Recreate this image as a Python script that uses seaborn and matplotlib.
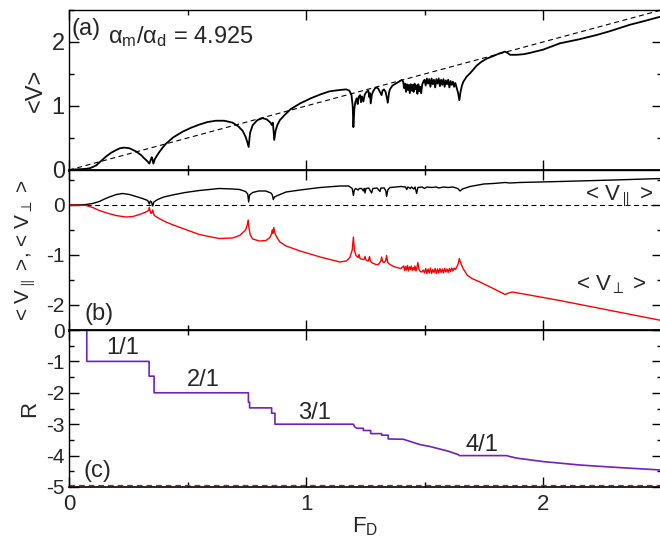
import numpy as np
import pandas as pd
import matplotlib
matplotlib.use("Agg")
import matplotlib.pyplot as plt
import seaborn as sns
from matplotlib.ticker import MultipleLocator

# ---------------- panel (a): <V> vs F_D ----------------
fa = [0.0, 0.03, 0.06, 0.075, 0.09, 0.114, 0.135, 0.156, 0.178, 0.198, 0.215, 0.233, 0.255, 0.283,
      0.305, 0.318, 0.330, 0.339, 0.345, 0.349, 0.352, 0.356, 0.362, 0.372, 0.381, 0.395, 0.409,
      0.44, 0.48, 0.515, 0.55, 0.585, 0.62, 0.655, 0.69, 0.715, 0.733, 0.745, 0.752, 0.758, 0.764,
      0.775, 0.795, 0.817, 0.835, 0.850, 0.857, 0.860, 0.863, 0.866, 0.872, 0.880, 0.890, 0.91,
      0.935, 0.975, 1.02, 1.06, 1.10, 1.143, 1.17, 1.183, 1.192, 1.197, 1.200,
      1.204, 1.208, 1.214, 1.218, 1.222, 1.228, 1.232, 1.236, 1.242, 1.248, 1.255, 1.263, 1.267,
      1.270, 1.273, 1.278, 1.285, 1.292, 1.298, 1.305, 1.312, 1.319, 1.323, 1.329, 1.336, 1.340,
      1.345, 1.350, 1.354, 1.365, 1.383, 1.397, 1.404, 1.410, 1.414,
      1.418, 1.422, 1.426, 1.430, 1.434, 1.438, 1.442, 1.446, 1.450, 1.454, 1.458, 1.462, 1.466,
      1.470, 1.474, 1.478, 1.482, 1.486, 1.490, 1.495,
      1.500, 1.505, 1.510, 1.515, 1.520, 1.525, 1.530, 1.535, 1.540, 1.545, 1.550, 1.555, 1.560,
      1.565, 1.570, 1.575, 1.580, 1.585, 1.590, 1.595, 1.600, 1.605, 1.610, 1.615, 1.620, 1.625,
      1.630, 1.636, 1.642, 1.647,
      1.652, 1.658, 1.664, 1.678, 1.692, 1.706, 1.72, 1.74, 1.762, 1.79, 1.815, 1.84, 1.85, 1.861,
      1.875, 1.889, 1.92, 1.945, 2.0, 2.072, 2.15, 2.227, 2.283, 2.367, 2.43, 2.5]
va = [0.0, 0.01, 0.015, 0.02, 0.03, 0.07, 0.14, 0.21, 0.27, 0.31, 0.34, 0.35, 0.34, 0.29,
      0.23, 0.18, 0.14, 0.10, 0.16, 0.20, 0.17, 0.10, 0.17, 0.23, 0.28, 0.35, 0.41,
      0.51, 0.60, 0.66, 0.71, 0.75, 0.77, 0.77, 0.74, 0.68, 0.61, 0.52, 0.44, 0.36, 0.58,
      0.70, 0.78, 0.81, 0.79, 0.74, 0.70, 0.74, 0.62, 0.47, 0.62, 0.71, 0.78, 0.86,
      0.95, 1.04, 1.12, 1.18, 1.23, 1.25, 1.26, 1.24, 1.17, 1.00, 0.67,
      0.95, 1.06, 1.12, 1.03, 1.14, 1.17, 1.06, 1.15, 1.07, 1.18, 1.22, 1.24, 1.14,
      1.20, 1.04, 1.18, 1.24, 1.28, 1.29, 1.27, 1.22, 1.17, 1.24, 1.26, 1.22, 1.15,
      1.05, 1.20, 1.26, 1.32, 1.36, 1.39, 1.41, 1.38, 1.28,
      1.35, 1.22, 1.34, 1.25, 1.33, 1.20, 1.34, 1.24, 1.33, 1.22, 1.35, 1.26, 1.32,
      1.19, 1.34, 1.23, 1.30, 1.20, 1.33, 1.38,
      1.41, 1.32, 1.43, 1.35, 1.42, 1.30, 1.43, 1.34, 1.41, 1.29, 1.42, 1.35, 1.43,
      1.31, 1.41, 1.33, 1.42, 1.30, 1.40, 1.34, 1.41, 1.29, 1.39, 1.33, 1.38, 1.30,
      1.36, 1.28, 1.20, 1.09,
      1.22, 1.32, 1.38, 1.46, 1.51, 1.57, 1.63, 1.69, 1.74, 1.78, 1.82, 1.85, 1.83, 1.80,
      1.80, 1.80, 1.81, 1.83, 1.88, 1.98, 2.04, 2.11, 2.17, 2.27, 2.33, 2.40]
diag_f = [0.0, 2.5]
diag_v = [0.0, 2.5]

# ---------------- panel (b): <V_par>, <V_perp> ----------------
fpar = [0.0, 0.05, 0.072, 0.10, 0.128, 0.15, 0.17, 0.20, 0.226, 0.255, 0.283, 0.31, 0.332, 0.339,
        0.343, 0.348, 0.353, 0.358, 0.374, 0.40, 0.437, 0.49, 0.55, 0.634, 0.69, 0.72, 0.745,
        0.754, 0.758, 0.762, 0.775, 0.80, 0.83, 0.852, 0.858, 0.862, 0.867, 0.88, 0.916, 0.975,
        1.06, 1.143, 1.18, 1.195, 1.200, 1.204, 1.21, 1.22, 1.225, 1.235, 1.242, 1.246, 1.249,
        1.253, 1.265, 1.272, 1.277, 1.282, 1.30, 1.312, 1.316, 1.33, 1.337, 1.340, 1.345, 1.354,
        1.38, 1.40, 1.42, 1.425, 1.43, 1.44, 1.445, 1.455, 1.46, 1.467, 1.472, 1.49, 1.50, 1.51,
        1.53, 1.55, 1.56, 1.58, 1.60, 1.62, 1.64, 1.65, 1.66, 1.692, 1.75, 1.79, 1.84, 1.86,
        1.90, 2.07, 2.3, 2.5]
vpar = [0.0, 0.005, 0.01, 0.03, 0.07, 0.12, 0.16, 0.21, 0.23, 0.21, 0.17, 0.13, 0.09, 0.02,
        0.08, 0.06, -0.02, 0.06, 0.11, 0.16, 0.20, 0.25, 0.29, 0.33, 0.32, 0.31, 0.27,
        0.22, 0.06, 0.20, 0.25, 0.28, 0.28, 0.24, 0.20, 0.11, 0.16, 0.19, 0.26, 0.30,
        0.35, 0.38, 0.38, 0.33, 0.19, 0.30, 0.33, 0.30, 0.33, 0.33, 0.28, 0.33, 0.24,
        0.33, 0.34, 0.28, 0.24, 0.33, 0.34, 0.27, 0.34, 0.34, 0.28, 0.17, 0.30, 0.35,
        0.36, 0.37, 0.36, 0.31, 0.36, 0.33, 0.36, 0.32, 0.36, 0.23, 0.35, 0.36, 0.33, 0.36,
        0.35, 0.36, 0.34, 0.36, 0.35, 0.36, 0.33, 0.28, 0.32, 0.37, 0.42, 0.43, 0.45, 0.44,
        0.45, 0.47, 0.50, 0.53]
fperp = [0.0, 0.05, 0.072, 0.10, 0.128, 0.16, 0.198, 0.24, 0.27, 0.297, 0.32, 0.332, 0.337, 0.339,
         0.342, 0.346, 0.350, 0.353, 0.356, 0.36, 0.38, 0.409, 0.44, 0.48, 0.55, 0.60, 0.634,
         0.69, 0.72, 0.745, 0.752, 0.756, 0.759, 0.765, 0.775, 0.803, 0.831, 0.848, 0.855, 0.858,
         0.860, 0.864, 0.870, 0.876, 0.89, 0.916, 0.975, 1.06, 1.143, 1.17, 1.185, 1.195, 1.200,
         1.204, 1.211, 1.220, 1.224, 1.228, 1.240, 1.245, 1.249, 1.253, 1.263, 1.268, 1.272,
         1.28, 1.295, 1.305, 1.316, 1.319, 1.323, 1.329, 1.336, 1.340, 1.345, 1.354, 1.37, 1.383,
         1.40, 1.412, 1.416, 1.420, 1.424, 1.428, 1.432, 1.436, 1.440, 1.444, 1.448, 1.452,
         1.456, 1.460, 1.464, 1.468, 1.472, 1.476, 1.482, 1.488, 1.495,
         1.500, 1.505, 1.510, 1.515, 1.520, 1.525, 1.530, 1.535, 1.540, 1.545, 1.550, 1.555,
         1.560, 1.565, 1.570, 1.575, 1.580, 1.585, 1.590, 1.595, 1.600, 1.605, 1.610, 1.615,
         1.620, 1.625, 1.630, 1.636, 1.642, 1.647,
         1.652, 1.664, 1.68, 1.70, 1.734, 1.79, 1.84, 1.855, 1.87, 1.93, 2.07, 2.21, 2.35, 2.5]
vperp = [0.0, -0.005, -0.01, -0.05, -0.11, -0.16, -0.21, -0.24, -0.23, -0.19, -0.15, -0.12,
         -0.10, -0.05, -0.12, -0.17, -0.15, -0.10, -0.16, -0.21, -0.27, -0.34, -0.40, -0.47,
         -0.59, -0.64, -0.67, -0.66, -0.61, -0.50, -0.40, -0.30, -0.45, -0.60, -0.68, -0.72,
         -0.71, -0.65, -0.57, -0.50, -0.57, -0.45, -0.58, -0.64, -0.74, -0.82, -0.92, -1.04,
         -1.14, -1.12, -1.05, -0.90, -0.64,
         -0.90, -1.01, -1.05, -0.99, -1.07, -1.09, -1.09, -1.03, -1.10, -1.12, -1.03, -1.13,
         -1.16, -1.19, -1.19, -1.12, -1.04, -1.13, -1.15, -1.12, -1.01, -1.15, -1.19, -1.23,
         -1.25, -1.27, -1.22, -1.31, -1.23, -1.30, -1.21, -1.32, -1.24, -1.29, -1.22, -1.31,
         -1.25, -1.30, -1.22, -1.32, -1.26, -1.15, -1.28, -1.33, -1.34, -1.30,
         -1.36, -1.27, -1.37, -1.28, -1.36, -1.26, -1.37, -1.29, -1.35, -1.27, -1.37, -1.28,
         -1.36, -1.27, -1.35, -1.28, -1.36, -1.27, -1.34, -1.28, -1.35, -1.27, -1.33, -1.26,
         -1.32, -1.26, -1.29, -1.24, -1.18, -1.07,
         -1.15, -1.28, -1.40, -1.47, -1.54, -1.67, -1.79, -1.76, -1.74, -1.79, -1.91, -2.04,
         -2.17, -2.31]
zero_f = [0.0, 2.5]
zero_v = [0.0, 0.0]

# ---------------- panel (c): R ----------------
fr = [0.075, 0.075, 0.338, 0.338, 0.359, 0.359, 0.757, 0.757, 0.762, 0.762, 0.855, 0.855, 0.869,
      0.869, 1.200, 1.205, 1.214, 1.242, 1.242, 1.273, 1.273, 1.319, 1.319, 1.347, 1.347, 1.411,
      1.481, 1.523, 1.60, 1.643, 1.647, 1.847, 1.86, 1.889, 2.0, 2.156, 2.297, 2.5]
rr = [0.3, -1.0, -1.0, -1.47, -1.47, -2.0, -2.0, -2.3, -2.3, -2.48, -2.48, -2.65, -2.65,
      -3.0, -3.0, -3.08, -3.13, -3.13, -3.2, -3.2, -3.3, -3.3, -3.35, -3.35, -3.47, -3.48,
      -3.65, -3.71, -3.86, -3.97, -4.0, -4.0, -4.03, -4.08, -4.19, -4.3, -4.37, -4.46]
ratio_f = [0.0, 2.5]
ratio_r = [-4.925, -4.925]
step_labels = ["1/1", "2/1", "3/1", "4/1"]
step_label_f = [0.228, 0.565, 1.034, 1.741]
step_label_r = [-0.56, -1.58, -2.64, -3.66]

# ---------------- style ----------------
sns.set_theme(style="ticks")
plt.rcParams['font.family'] = ['Liberation Sans', 'DejaVu Sans']
plt.rcParams['mathtext.fontset'] = 'custom'
plt.rcParams['mathtext.rm'] = 'Liberation Sans'
plt.rcParams['mathtext.it'] = 'Liberation Sans'
plt.rcParams['mathtext.default'] = 'regular'
plt.rcParams['axes.unicode_minus'] = False

W, H = 660, 537
fig = plt.figure(figsize=(W / 100, H / 100), dpi=100)


def box(l, t, r, b):
    return [l / W, 1 - b / H, (r - l) / W, (b - t) / H]


axA = fig.add_axes(box(69, 10, 661.5, 170))
axB = fig.add_axes(box(69, 170, 661.5, 330))
axC = fig.add_axes(box(69, 330, 661.5, 487))

kw = dict(sort=False, estimator=None, legend=False)
sns.lineplot(x=diag_f, y=diag_v, ax=axA, color='black', linewidth=0.8,
             linestyle=(0, (4.5, 3.2)), **kw)
sns.lineplot(x=fa, y=va, ax=axA, color='black', linewidth=1.3, **kw)

sns.lineplot(x=zero_f, y=zero_v, ax=axB, color='black', linewidth=0.8,
             linestyle=(0, (4.5, 3.2)), **kw)
sns.lineplot(x=fpar, y=vpar, ax=axB, color='black', linewidth=1.0, **kw)
sns.lineplot(x=fperp, y=vperp, ax=axB, color='#ff0000', linewidth=1.0, **kw)

sns.lineplot(x=ratio_f, y=ratio_r, ax=axC, color='#ff0000', linewidth=0.9,
             linestyle=(0, (4.5, 3.2)), **kw)
sns.lineplot(x=fr, y=rr, ax=axC, color='#7221bc', linewidth=1.2, **kw)

limits = [(axA, (0, 2.5)), (axB, (-2.5, 0.7)), (axC, (-5, 0))]
for ax, yl in limits:
    ax.set_xlim(0, 2.5)
    ax.set_ylim(*yl)
    ax.set_facecolor('white')
    ax.xaxis.set_major_locator(MultipleLocator(1))
    ax.xaxis.set_minor_locator(MultipleLocator(0.5))
    ax.yaxis.set_major_locator(MultipleLocator(1))
    ax.yaxis.set_minor_locator(MultipleLocator(0.5))
    ax.tick_params(which='both', direction='in', top=True, right=True,
                   color='black', width=1.0)
    ax.tick_params(which='major', length=7.2)
    ax.tick_params(which='minor', length=3.6)
    for s in ax.spines.values():
        s.set_color('black')
        s.set_linewidth(1.0)
    ax.set_xlabel('')
    ax.set_ylabel('')

axA.spines['bottom'].set_linewidth(2.0)
axB.spines['bottom'].set_linewidth(2.0)
axC.spines['bottom'].set_linewidth(1.2)

for ax in (axA, axB):
    ax.tick_params(labelbottom=False)

axA.tick_params(axis='y', labelsize=17, pad=3)
axB.tick_params(axis='y', labelsize=15, pad=3)
axC.tick_params(axis='y', labelsize=15, pad=3)
axC.tick_params(axis='x', labelsize=16, pad=5)

axA.set_ylabel('<V>', fontsize=17)
axA.yaxis.set_label_coords(-0.037, 0.5)
axB.set_ylabel('< V$_{\\parallel}$ >, < V$_{\\perp}$ >', fontsize=15)
axB.yaxis.set_label_coords(-0.052, 0.5)
axC.set_ylabel('R', fontsize=16)
axC.yaxis.set_label_coords(-0.049, 0.5)
axC.set_xlabel('F$_D$', fontsize=16, va='top')
axC.xaxis.set_label_coords(0.5, -0.178)

axA.text(0.005, 0.95, '(a)', transform=axA.transAxes, fontsize=17, ha='left', va='top')
axA.text(0.066, 0.794, '$\\alpha_m/\\alpha_d$ = 4.925', transform=axA.transAxes,
         fontsize=17, ha='left', va='baseline')
axB.text(0.027, 0.169, '(b)', transform=axB.transAxes, fontsize=17, ha='left', va='top')
axB.text(0.986, 0.8125, '< V$_{\\parallel}$ >', transform=axB.transAxes, fontsize=16,
         ha='right', va='baseline')
axB.text(0.975, 0.25, '< V$_{\\perp}$ >', transform=axB.transAxes, fontsize=16,
         ha='right', va='baseline')
axC.text(0.024, 0.172, '(c)', transform=axC.transAxes, fontsize=17, ha='left', va='top')
for lab, xf, yr in zip(step_labels, step_label_f, step_label_r):
    axC.text(xf, yr, lab, fontsize=17, ha='center', va='center')

fig.savefig('out.png', dpi=100)
